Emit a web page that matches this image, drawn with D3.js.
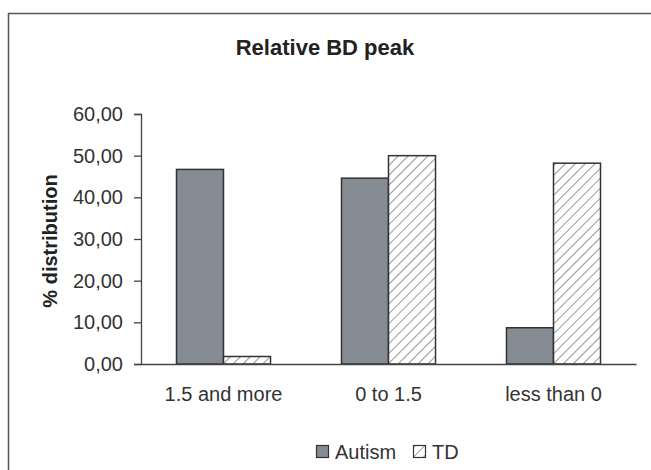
<!DOCTYPE html>
<html><head><meta charset="utf-8">
<script src="https://cdn.jsdelivr.net/npm/d3@7"></script>
<style>body{margin:0;background:#fff}svg{display:block;font-family:"Liberation Sans",Arial,sans-serif}</style>
</head><body>
<script>
const categories = ["1.5 and more", "0 to 1.5", "less than 0"];
const seriesNames = ["Autism", "TD"];
const autism = [46.7, 44.6, 8.7];
const td = [1.8, 50.0, 48.2];
const yTicks = [0, 10, 20, 30, 40, 50, 60];

const W = 651, H = 470;
const FONT = "Liberation Sans, Arial, sans-serif";
const svg = d3.select("body").append("svg").attr("width", W).attr("height", H);

const defs = svg.append("defs");
const pat = defs.append("pattern").attr("id", "hatch").attr("patternUnits", "userSpaceOnUse")
  .attr("width", 7).attr("height", 7).attr("patternTransform", "rotate(45)");
pat.append("rect").attr("width", 7).attr("height", 7).attr("fill", "#fff");
pat.append("line").attr("x1", 0).attr("y1", 0).attr("x2", 0).attr("y2", 7)
  .attr("stroke", "#333").attr("stroke-width", 1);

// outer frame (cut at right/bottom)
svg.append("path").attr("d", `M8.5,${H} V13.5 H${W}`).attr("fill", "none")
  .attr("stroke", "#555").attr("stroke-width", 1.5);

const m = {left: 141, right: 636, top: 114, bottom: 364};
const x0 = d3.scaleBand().domain(categories).range([m.left, m.right]).paddingInner(0).paddingOuter(0);
const x1 = d3.scaleBand().domain(seriesNames).range([0, x0.bandwidth()]).paddingInner(0).paddingOuter(0.755);
const y = d3.scaleLinear().domain([0, 60]).range([m.bottom, m.top]);

svg.append("text").attr("x", 325).attr("y", 55).attr("text-anchor", "middle")
  .attr("font-weight", "bold").attr("font-size", 22).attr("fill", "#222").text("Relative BD peak");

const fmt = v => d3.format(".2f")(v).replace(".", ",");
const yAxis = svg.append("g").attr("transform", `translate(${m.left},0)`)
  .call(d3.axisLeft(y).tickValues(yTicks).tickFormat(fmt).tickSize(7).tickPadding(11));
yAxis.select(".domain").attr("stroke", "#444").attr("stroke-width", 1.3);
yAxis.selectAll(".tick line").attr("stroke", "#444").attr("stroke-width", 1.3);
yAxis.selectAll("text").attr("font-size", 20).attr("fill", "#333").attr("font-family", FONT);

svg.append("text").attr("transform", `translate(57,${(m.top+m.bottom)/2 + 2}) rotate(-90)`)
  .attr("text-anchor", "middle").attr("font-weight", "bold").attr("font-size", 20).attr("fill", "#222")
  .text("% distribution");

const data = categories.map((c, i) => ({c, vals: [{s: "Autism", v: autism[i]}, {s: "TD", v: td[i]}]}));
const g = svg.append("g");
g.selectAll("g").data(data).join("g").attr("transform", d => `translate(${x0(d.c)},0)`)
  .selectAll("rect").data(d => d.vals).join("rect")
  .attr("x", d => x1(d.s)).attr("width", x1.bandwidth())
  .attr("y", d => y(d.v)).attr("height", d => y(0) - y(d.v))
  .attr("fill", d => d.s === "Autism" ? "#858c94" : "url(#hatch)")
  .attr("stroke", "#333").attr("stroke-width", 1.5);

const xAxis = svg.append("g").attr("transform", `translate(0,${m.bottom})`)
  .call(d3.axisBottom(x0).tickSize(0).tickPadding(23));
xAxis.select(".domain").attr("stroke", "#444").attr("stroke-width", 1.3);
xAxis.selectAll("text").attr("font-size", 20).attr("fill", "#333").attr("font-family", FONT);

// legend
const lg = svg.append("g").attr("transform", "translate(316,445)");
const items = [{s: "Autism", x: 0, fill: "#858c94"}, {s: "TD", x: 97, fill: "url(#hatch)"}];
items.forEach(it => {
  lg.append("rect").attr("x", it.x + 0.5).attr("y", 0.5).attr("width", 12).attr("height", 12)
    .attr("fill", it.fill).attr("stroke", "#333").attr("stroke-width", 1.2);
  lg.append("text").attr("x", it.x + 19).attr("y", 14).attr("font-size", 20).attr("fill", "#333").text(it.s);
});
</script>
</body></html>
